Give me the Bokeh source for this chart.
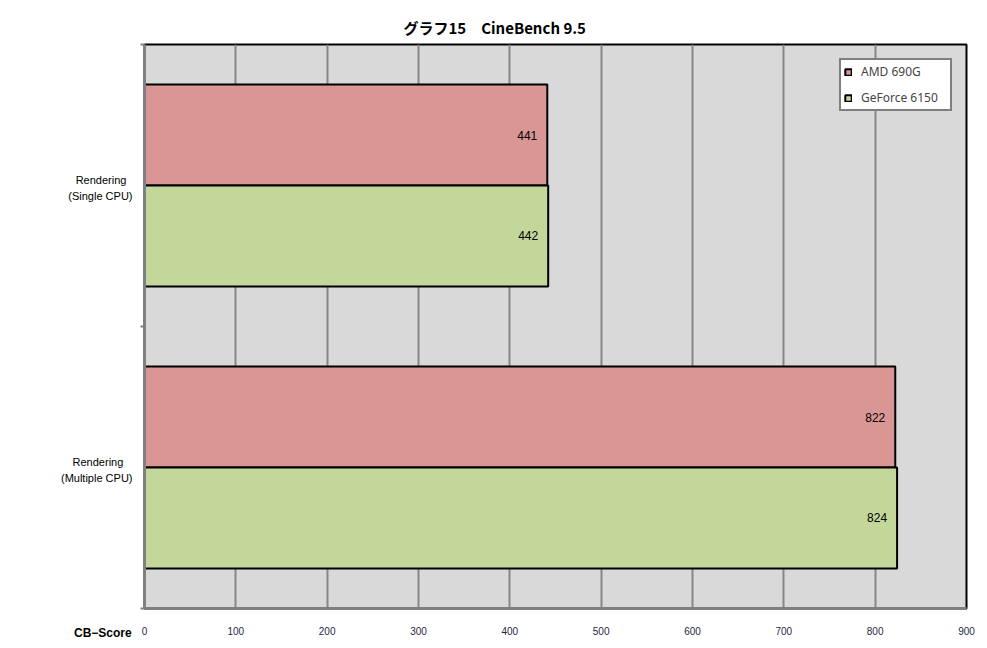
from bokeh.plotting import figure
from bokeh.models import FixedTicker, Range1d, ColumnDataSource, Legend, LegendItem
from bokeh.core.properties import value
from bokeh.embed import file_html
from bokeh.resources import INLINE

# ---- data ----
categories = ["Rendering\u00a0\u00a0\n(Single CPU)", "Rendering\u00a0\u00a0\u00a0\n(Multiple CPU)"]
series_names = ["AMD 690G", "GeForce 6150"]
amd_690g = [441, 822]
geforce_6150 = [442, 824]
x_ticks = [0, 100, 200, 300, 400, 500, 600, 700, 800, 900]
title_text = "グラフ15　CineBench 9.5"
x_title = "CB−Score"

PINK = "#D99694"
GREEN = "#C4D79B"
BG = "#D9D9D9"
GRID = "#868686"

W, H = 978, 640
n = len(categories)
centers = [n - i - 0.5 for i in range(n)]
bar_h = 0.358
label_shift = 0.01  # category labels sit a little below the category centre

p = figure(width=W, height=H, output_backend="svg", toolbar_location=None,
           x_range=Range1d(0, 900), y_range=Range1d(0, n),
           min_border_left=144, min_border_right=12, min_border_top=44, min_border_bottom=32)
p.frame_width = 822
p.frame_height = 564
p.background_fill_color = BG
p.border_fill_color = "white"
p.outline_line_color = "black"
p.outline_line_width = 2

p.xgrid.ticker = FixedTicker(ticks=x_ticks)
p.xgrid.grid_line_color = GRID
p.xgrid.grid_line_width = 2
p.ygrid.grid_line_color = None

src_a = ColumnDataSource(dict(y=[c + bar_h / 2 for c in centers], right=amd_690g,
                              lab=[str(v) for v in amd_690g]))
src_g = ColumnDataSource(dict(y=[c - bar_h / 2 for c in centers], right=geforce_6150,
                              lab=[str(v) for v in geforce_6150]))

r_a = p.hbar(y="y", right="right", left=0, height=bar_h, source=src_a,
             fill_color=PINK, line_color="black", line_width=2)
r_g = p.hbar(y="y", right="right", left=0, height=bar_h, source=src_g,
             fill_color=GREEN, line_color="black", line_width=2)

for src in (src_a, src_g):
    p.text(x="right", y="y", text="lab", source=src, text_align="right",
           text_baseline="middle", x_offset=-10, text_font_size="12px",
           text_font=value("Liberation Sans"), text_color="black")

# x axis
xa = p.xaxis[0]
xa.ticker = FixedTicker(ticks=x_ticks)
xa.axis_line_color = "#808080"
xa.axis_line_width = 3
xa.major_tick_line_color = None
xa.minor_tick_line_color = None
xa.major_label_standoff = 12
xa.major_label_text_font_size = "10px"
xa.major_label_text_font = "Liberation Sans"
xa.major_label_text_color = "#1F1F3F"
# axis title sits left of the axis start, on the tick-label row
xa.axis_label = x_title + "\u00a0" * 25
xa.axis_label_align = "start"
xa.axis_label_standoff = -12
xa.axis_label_text_font_size = "12px"
xa.axis_label_text_font_style = "bold"
xa.axis_label_text_font = "Liberation Sans"
xa.axis_label_text_color = "black"

# y axis
ya = p.yaxis[0]
label_ticks = [c - label_shift for c in centers]
ya.ticker = FixedTicker(ticks=label_ticks, minor_ticks=[0, 1, 2])
ya.major_label_overrides = {t: categories[i] for i, t in enumerate(label_ticks)}
ya.axis_line_color = "#808080"
ya.axis_line_width = 3
ya.major_tick_line_color = None
ya.major_tick_out = 4
ya.minor_tick_line_color = "#808080"
ya.minor_tick_line_width = 2
ya.minor_tick_out = 4
ya.minor_tick_in = 0
ya.major_label_standoff = 8
ya.major_label_text_font_size = "11px"
ya.major_label_text_font = "Liberation Sans"
ya.major_label_text_color = "black"
ya.major_label_text_line_height = 1.35

# legend
legend = Legend(items=[LegendItem(label=series_names[0], renderers=[r_a]),
                       LegendItem(label=series_names[1], renderers=[r_g])],
                location="top_right")
legend.margin = 14
legend.padding = 3
legend.spacing = 9
legend.glyph_width = 8
legend.glyph_height = 8
legend.label_height = 13
legend.label_width = 86
legend.label_text_font = "Noto Sans"
legend.label_text_font_size = "12px"
legend.label_standoff = 9
legend.border_line_color = "black"
legend.border_line_width = 2
legend.background_fill_color = "white"
legend.background_fill_alpha = 1
p.add_layout(legend)

# title
p.title.text = title_text
p.title.align = "left"
p.title.offset = 403 - 144
p.title.standoff = 14
p.title.text_font = "Noto Sans CJK JP"
p.title.text_font_size = "15px"
p.title.text_font_style = "bold"
p.title.text_color = "black"

open("out.html", "w").write(file_html(p, INLINE))
